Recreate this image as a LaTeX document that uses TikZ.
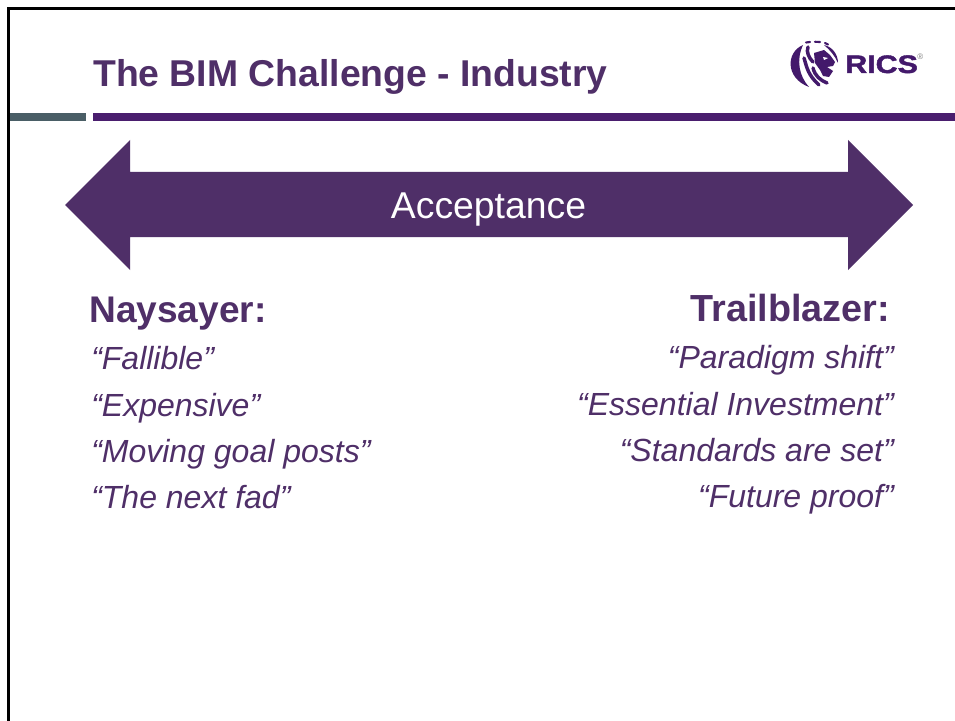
\documentclass[tikz,border=0pt]{standalone}
\usepackage{fontspec}
\setmainfont{Liberation Sans}
\newfontfamily\ricsfont[FakeBold=1.6]{Liberation Sans Bold}
\definecolor{rpurple}{HTML}{4F2F68}
\definecolor{rbar}{HTML}{4A1E6E}
\definecolor{rgrey}{HTML}{4A5E66}
\definecolor{rlogo}{HTML}{43196B}
\begin{document}
\begin{tikzpicture}[x=0.75pt,y=-0.75pt,
  lbl/.style={inner sep=0pt,text=rpurple},
  head/.style={lbl,font=\fontsize{27.8}{32}\selectfont\bfseries},
  quote/.style={lbl,font=\fontsize{24}{29}\selectfont\itshape},
  mane/.style={draw=rlogo,line width=2.6pt,line cap=round}]
\useasboundingbox (0,0) rectangle (955,720);
\fill[white] (0,0) rectangle (955,720);
\draw[black,line width=1.6pt] (8.5,725) -- (8.5,8.5) -- (960,8.5);
\fill[rgrey] (10,113.5) rectangle (86,121);
\fill[rbar] (93,113.5) rectangle (955,121);
\node[lbl,anchor=base west,font=\fontsize{28}{33}\selectfont\bfseries] (title) at (93,86.5) {The BIM Challenge - Industry};
\fill[rpurple] (65,205) -- (130,140) -- (130,172) -- (848,172) -- (848,140) -- (913,205) -- (848,270) -- (848,237) -- (130,237) -- (130,270) -- cycle;
\node[inner sep=0pt,text=white,font=\fontsize{28}{33}\selectfont,anchor=base] (acc) at (488.5,218.5) {Acceptance};
\node[head,anchor=base west] (nay) at (89,322) {Naysayer:};
\node[quote,anchor=base west] (n1) at (91,369) {“Fallible”};
\node[quote,anchor=base west] (n2) at (91,416) {“Expensive”};
\node[quote,anchor=base west] (n3) at (91,462) {“Moving goal posts”};
\node[quote,anchor=base west] (n4) at (91,508) {“The next fad”};
\node[head,anchor=base east,font=\fontsize{28.3}{32}\selectfont\bfseries] (tra) at (890,321) {Trailblazer:};
\node[quote,anchor=base east] (t1) at (894,368) {“Paradigm shift”};
\node[quote,anchor=base east] (t2) at (894,415) {“Essential Investment”};
\node[quote,anchor=base east] (t3) at (894,461) {“Standards are set”};
\node[quote,anchor=base east] (t4) at (894,507) {“Future proof”};
% logo
\fill[rlogo] (803,45) .. controls (786,52) and (785,78) .. (809,87) .. controls (799,76) and (796,60) .. (803,45) -- cycle;
\draw[mane] (804,58) .. controls (807,68) and (808,75) .. (819,85);
\draw[mane] (813,68) .. controls (815,76) and (820,80) .. (827,83);
\draw[mane] (808,47) .. controls (806,52) and (809,58) .. (813,62);
\draw[mane,line width=1.6pt] (806,42.5) -- (810,42);
\draw[mane,line width=1.6pt] (815,41.8) -- (820,42);
\draw[mane,line width=1.6pt] (825,43) -- (828,44.5);
\fill[rlogo] (824,45) .. controls (833,47) and (838,55) .. (838,63) .. controls (835,56) and (830,50) .. (824,45) -- cycle;
\fill[rlogo] (814,53) -- (824,50) -- (830,55) -- (835,62) -- (833,66) -- (827,67) -- (833,71) -- (829,77) -- (823,76) -- (820,70) -- (815,63) -- cycle;
\fill[white] (823,57) -- (828,58) -- (824,60) -- cycle;
\node[inner sep=0pt,text=rlogo,anchor=base west] (rics) at (845,73) {\scalebox{1.2}[1]{\ricsfont\fontsize{19}{23}\selectfont RICS}};
\node[inner sep=0pt,text=gray,anchor=base west,font=\fontsize{6}{7}\selectfont] (reg) at (917,60) {®};
\end{tikzpicture}
\end{document}
